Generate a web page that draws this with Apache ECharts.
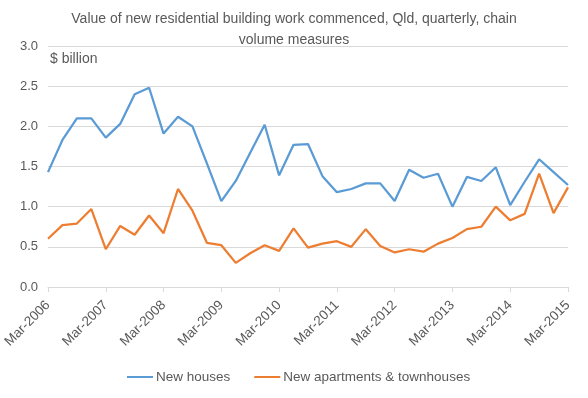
<!DOCTYPE html>
<html>
<head>
<meta charset="utf-8">
<script src="https://cdn.jsdelivr.net/npm/echarts@6/dist/echarts.min.js"></script>
<style>
  html, body { margin: 0; padding: 0; background: #fff; }
  #chart { width: 588px; height: 398px; }
</style>
</head>
<body>
<div id="chart"></div>
<script>
// quarterly periods, Mar-2006 .. Mar-2015
const quarters = [
  'Mar-2006', 'Jun-2006', 'Sep-2006', 'Dec-2006',
  'Mar-2007', 'Jun-2007', 'Sep-2007', 'Dec-2007',
  'Mar-2008', 'Jun-2008', 'Sep-2008', 'Dec-2008',
  'Mar-2009', 'Jun-2009', 'Sep-2009', 'Dec-2009',
  'Mar-2010', 'Jun-2010', 'Sep-2010', 'Dec-2010',
  'Mar-2011', 'Jun-2011', 'Sep-2011', 'Dec-2011',
  'Mar-2012', 'Jun-2012', 'Sep-2012', 'Dec-2012',
  'Mar-2013', 'Jun-2013', 'Sep-2013', 'Dec-2013',
  'Mar-2014', 'Jun-2014', 'Sep-2014', 'Dec-2014',
  'Mar-2015'
]

// $ billion
const newHouses = [
  1.43, 1.83, 2.10, 2.10, 1.86, 2.03, 2.40, 2.48,
  1.91, 2.12, 2.00, 1.54, 1.07, 1.32, 1.67, 2.02,
  1.39, 1.77, 1.78, 1.38, 1.18, 1.22, 1.29, 1.29,
  1.07, 1.46, 1.36, 1.41, 1.00, 1.37, 1.32, 1.49,
  1.02, 1.31, 1.59, 1.43, 1.27
]

const newApartments = [
  0.60, 0.77, 0.79, 0.97, 0.47, 0.76, 0.65, 0.89,
  0.67, 1.22, 0.95, 0.55, 0.52, 0.30, 0.42, 0.52,
  0.45, 0.73, 0.49, 0.54, 0.57, 0.50, 0.72, 0.51,
  0.43, 0.47, 0.44, 0.54, 0.61, 0.72, 0.75, 1.00,
  0.83, 0.91, 1.41, 0.92, 1.24
]

const yTicks = [0, 0.5, 1.0, 1.5, 2.0, 2.5, 3.0]

const textColor = '#595959'
const gridColor = '#d9d9d9'
const font = 'Liberation Sans, sans-serif'

const chartInstance = echarts.init(document.getElementById('chart'))

const option = {
  animation: false,
  textStyle: { fontFamily: font },
  title: {
    text: 'Value of new residential building work commenced, Qld, quarterly, chain\nvolume measures',
    left: 'center',
    top: 4,
    textStyle: {
      color: textColor,
      fontSize: 14,
      fontWeight: 'normal',
      fontFamily: font,
      lineHeight: 21
    }
  },
  legend: {
    bottom: 9,
    left: 122,
    itemWidth: 26,
    itemHeight: 2,
    itemGap: 24,
    icon: 'rect',
    textStyle: { color: textColor, fontSize: 13.5, fontFamily: font, padding: [0, 0, 0, -2] },
    data: ['New houses', 'New apartments & townhouses']
  },
  graphic: [{
    type: 'text',
    left: 50,
    top: 52,
    style: { text: '$ billion', fill: textColor, fontSize: 14, fontFamily: font }
  }],
  grid: {
    left: 48,
    right: 20,
    top: 46,
    bottom: 111
  },
  xAxis: {
    type: 'category',
    data: quarters,
    boundaryGap: false,
    axisLine: { lineStyle: { color: gridColor } },
    axisTick: { show: true, interval: 3, length: 5, lineStyle: { color: gridColor } },
    axisLabel: {
      interval: 3,
      rotate: 45,
      color: textColor,
      fontSize: 13.5,
      fontFamily: font,
      margin: 16
    }
  },
  yAxis: {
    type: 'value',
    min: yTicks[0],
    max: yTicks[yTicks.length - 1],
    interval: 0.5,
    axisLine: { show: false },
    axisTick: { show: false },
    axisLabel: {
      color: textColor,
      fontSize: 13,
      fontFamily: font,
      margin: 10,
      formatter: (v) => v.toFixed(1)
    },
    splitLine: { lineStyle: { color: gridColor } }
  },
  series: [
    {
      name: 'New houses',
      type: 'line',
      data: newHouses,
      symbol: 'none',
      itemStyle: { color: '#5b9bd5' },
      lineStyle: { color: '#5b9bd5', width: 2.25 }
    },
    {
      name: 'New apartments & townhouses',
      type: 'line',
      data: newApartments,
      symbol: 'none',
      itemStyle: { color: '#ed7d31' },
      lineStyle: { color: '#ed7d31', width: 2.25 }
    }
  ]
}

chartInstance.setOption(option)
</script>
</body>
</html>
